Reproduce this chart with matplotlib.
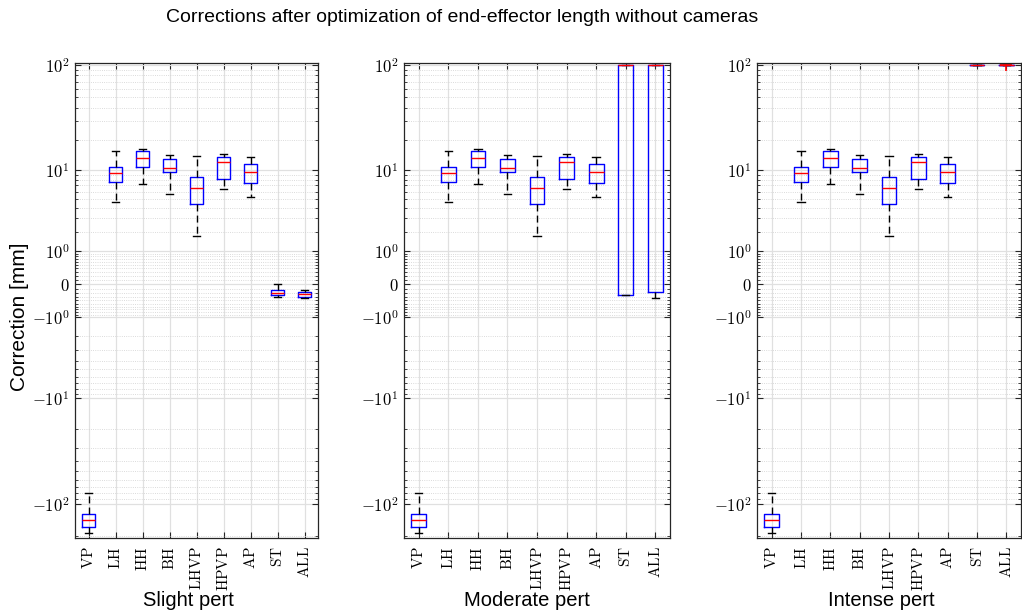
import numpy as np
import matplotlib.pyplot as plt

plt.rcParams['mathtext.fontset'] = 'cm'
plt.rcParams['font.family'] = ['Liberation Sans', 'DejaVu Sans']

cats = ['VP', 'LH', 'HH', 'BH', 'LHVP', 'HPVP', 'AP', 'ST', 'ALL']
panel_names = ['Slight pert', 'Moderate pert', 'Intense pert']

# first seven sets are the same for every perturbation level
base_lo  = [-185, 4.68, 7.19, 5.72, 1.76, 6.37, 5.23]
base_q1  = [-164, 7.60, 10.79, 9.54, 4.41, 8.10, 7.36]
base_med = [-140, 9.39, 13.16, 10.47, 6.53, 12.02, 9.54]
base_q3  = [-125, 10.86, 15.4, 12.87, 8.61, 13.55, 11.64]
base_hi  = [-79, 15.4, 16.1, 14.08, 13.96, 14.6, 13.46]

# ST / ALL per perturbation level
st_all_lo  = [[-0.30, -0.34], [-0.26, -0.33], [100, 100]]
st_all_q1  = [[-0.26, -0.32], [-0.25, -0.17], [100, 100]]
st_all_med = [[-0.20, -0.23], [100, 100], [100, 100]]
st_all_q3  = [[-0.14, -0.17], [100, 100], [100, 100]]
st_all_hi  = [[0.01, -0.14], [100, 100], [100, 100]]
st_all_out = [[[], []], [[], []], [[], [100]]]

yticks = [-100, -10, -1, 0, 1, 10, 100]
yticklabels = [r'$-10^{2}$', r'$-10^{1}$', r'$-10^{0}$', r'$0$',
               r'$10^{0}$', r'$10^{1}$', r'$10^{2}$']


def fwd(y):
    y = np.asarray(y, dtype=float)
    return np.sign(y) * np.log10(1 + np.abs(y))


def inv(t):
    t = np.asarray(t, dtype=float)
    return np.sign(t) * (10 ** np.abs(t) - 1)


pos = [k / 10 for k in range(1, 10)] + list(range(2, 10)) \
    + list(range(20, 100, 10))
yminor = sorted(pos + [-p for p in pos] + [-200])

W, H = 1022, 614
fig = plt.figure(figsize=(W / 100, H / 100), dpi=100)

# axes extents in pixels: left, right
boxes_px = [(75, 318), (404, 670), (757, 1021)]
top_px, bot_px = 63, 538
xlab_x = [0.465, 0.462, 0.47]

for i, (l, r) in enumerate(boxes_px):
    ax = fig.add_axes([l / W, 1 - bot_px / H, (r - l) / W, (bot_px - top_px) / H])
    ax.set_yscale('function', functions=(fwd, inv))

    lo = base_lo + st_all_lo[i]
    q1 = base_q1 + st_all_q1[i]
    med = base_med + st_all_med[i]
    q3 = base_q3 + st_all_q3[i]
    hi = base_hi + st_all_hi[i]
    out = [[] for _ in range(7)] + st_all_out[i]
    stats = [dict(whislo=a, q1=b, med=c, q3=d, whishi=e, fliers=f)
             for a, b, c, d, e, f in zip(lo, q1, med, q3, hi, out)]

    ax.bxp(stats, positions=range(1, len(cats) + 1), widths=0.5,
           capwidths=0.25, showfliers=True,
           boxprops=dict(color='blue', lw=1),
           medianprops=dict(color='red', lw=1),
           whiskerprops=dict(color='black', lw=1, linestyle=(0, (5, 3))),
           capprops=dict(color='black', lw=1),
           flierprops=dict(marker='+', markeredgecolor='red',
                           markersize=9, markeredgewidth=1.2))

    ax.set_xticks(range(1, len(cats) + 1))
    ax.set_xticklabels([r'$\mathrm{%s}$' % c for c in cats],
                       rotation=90, fontsize=11)
    ax.set_yticks(yticks)
    ax.set_yticklabels(yticklabels, fontsize=12)
    ax.set_yticks(yminor, minor=True)
    ax.set_xlim(0.5, len(cats) + 0.5)
    ax.set_ylim(-207, 104)

    ax.tick_params(which='both', direction='in', top=True, right=True,
                   color='#262626')
    ax.tick_params(which='major', length=4, width=0.8)
    ax.tick_params(which='minor', length=2.5, width=0.6)
    ax.tick_params(axis='x', pad=6)
    ax.tick_params(axis='y', pad=4)
    for s in ax.spines.values():
        s.set_color('#262626')
        s.set_linewidth(0.9)

    ax.set_axisbelow(True)
    ax.grid(True, which='major', color='#e0e0e0', lw=0.9)
    ax.grid(True, which='minor', axis='y', color='#cfcfcf', ls=':', lw=0.6)

    ax.set_xlabel(panel_names[i], fontsize=14.5)
    ax.xaxis.set_label_coords(xlab_x[i], -0.112)

fig.text(20 / W, 1 - 317 / H, 'Correction [mm]', rotation=90,
         ha='center', va='center', fontsize=15)
fig.text(462 / W, 1 - 18 / H,
         'Corrections after optimization of end-effector length without cameras',
         ha='center', va='center', fontsize=14)

fig.savefig('out.png', dpi=100)
